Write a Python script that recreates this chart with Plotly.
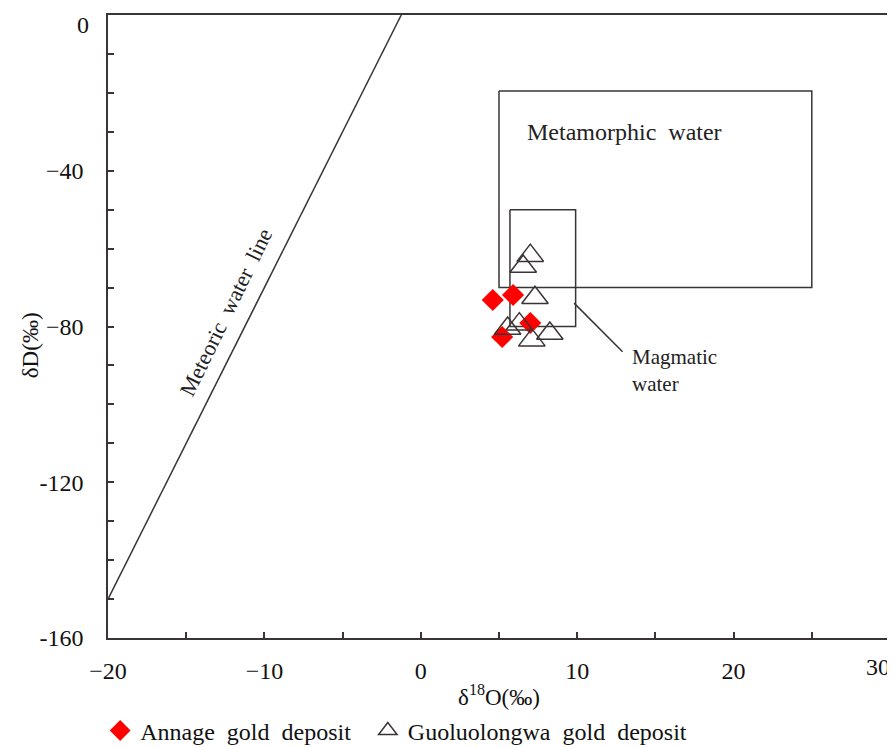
import plotly.graph_objects as go

# Data
annage_o = [4.6, 5.9, 5.2, 7.0]
annage_d = [-73.2, -71.9, -82.7, -79.1]

guo_o = [7.0, 6.55, 7.3, 5.55, 6.3, 7.1, 8.25]
guo_d = [-61.8, -64.6, -72.6, -80.5, -79.4, -83.5, -81.8]

meteoric_o = [-20, -1.25]
meteoric_d = [-150, 0]

metamorphic_o = [5, 25, 25, 5, 5]
metamorphic_d = [-19.5, -19.5, -70, -70, -19.5]

magmatic_o = [5.7, 9.9, 9.9, 5.7, 5.7]
magmatic_d = [-50, -50, -80, -80, -50]

pointer_o = [9.8, 12.9]
pointer_d = [-74, -86.5]

x_ticks = [-20, -10, 0, 10, 20]
x_ticktext = ["\u221220", "\u221210", "0", "10", "20"]
x_last_tick = 30
x_last_text = "30"
y_ticks = [-40, -80, -120, -160]
y_ticktext = ["\u221240", "\u221280", "-120", "-160"]
y_first_tick = 0
y_first_text = "0"

FONT = "Liberation Serif, Times New Roman, serif"
INK = "#3a3535"

fig = go.Figure()

line_style = dict(color=INK, width=1.5)
fig.add_trace(go.Scatter(x=meteoric_o, y=meteoric_d, mode="lines", line=line_style,
                         showlegend=False, hoverinfo="skip"))
fig.add_trace(go.Scatter(x=metamorphic_o, y=metamorphic_d, mode="lines", line=line_style,
                         showlegend=False, hoverinfo="skip"))
fig.add_trace(go.Scatter(x=magmatic_o, y=magmatic_d, mode="lines", line=line_style,
                         showlegend=False, hoverinfo="skip"))
fig.add_trace(go.Scatter(x=pointer_o, y=pointer_d, mode="lines", line=line_style,
                         showlegend=False, hoverinfo="skip"))

fig.add_trace(go.Scatter(
    x=annage_o, y=annage_d, mode="markers",
    name="Annage\u00a0 gold\u00a0 deposit\u00a0\u00a0",
    marker=dict(symbol="diamond", size=17, color="#ff0000", line=dict(width=0)),
))
fig.add_trace(go.Scatter(
    x=guo_o, y=guo_d, mode="markers",
    name="Guoluolongwa\u00a0 gold\u00a0 deposit",
    marker=dict(symbol="triangle-up-open", size=23, color=INK, line=dict(width=1.5, color=INK)),
))

TXT = dict(family=FONT, size=24, color="#222")
fig.add_annotation(x=6.66, y=-30, text="Metamorphic\u00a0 water", showarrow=False,
                   xanchor="left", yanchor="middle", font=TXT)
fig.add_annotation(x=13.4, y=-91.4, text="Magmatic<br>water", showarrow=False,
                   xanchor="left", yanchor="middle", align="left",
                   font=dict(family=FONT, size=21, color="#222"))
fig.add_annotation(x=-12.45, y=-76.5, text="Meteoric\u00a0 water\u00a0 line", showarrow=False,
                   textangle=-64, font=dict(family=FONT, size=22, color="#222"))
fig.add_annotation(x=x_last_tick, y=0, yref="paper", text=x_last_text, showarrow=False,
                   xanchor="right", yanchor="top", xshift=2, yshift=-14,
                   font=dict(family=FONT, size=24, color="#111"))
fig.add_annotation(x=0, xref="paper", y=y_first_tick, text=y_first_text, showarrow=False,
                   xanchor="right", yanchor="top", xshift=-17, yshift=5,
                   font=dict(family=FONT, size=24, color="#111"))
# y-axis title
fig.add_annotation(x=-0.0997, xref="paper", y=0.47, yref="paper", text="\u03b4D(\u2030)",
                   showarrow=False, textangle=-90, xanchor="center", yanchor="middle",
                   font=dict(family=FONT, size=23, color="#111"))

axis_common = dict(
    showgrid=False, zeroline=False, showline=True, linecolor=INK, linewidth=1.5,
    mirror=True, ticks="inside", ticklen=6, tickcolor=INK, tickwidth=1.5,
    tickfont=dict(family=FONT, size=24, color="#111"), automargin=False,
)

fig.update_xaxes(
    range=[-20, 30], tickmode="array", tickvals=x_ticks, ticktext=x_ticktext,
    minor=dict(dtick=5, ticks="inside", ticklen=6, tickcolor=INK, tickwidth=1.5),
    title=dict(text="\u03b4<sup>18</sup>O(\u2030)", font=dict(family=FONT, size=23, color="#111"), standoff=6),
    ticklabelstandoff=10,
    **axis_common,
)
fig.update_yaxes(
    range=[-160, 0], tickmode="array", tickvals=y_ticks, ticktext=y_ticktext,
    minor=dict(dtick=10, ticks="inside", ticklen=6, tickcolor=INK, tickwidth=1.5),
    ticklabelstandoff=18,
    **axis_common,
)

fig.update_layout(
    width=887, height=739,
    margin=dict(l=100, r=5, t=7, b=109, autoexpand=False),
    plot_bgcolor="white", paper_bgcolor="white",
    font=dict(family=FONT, color="#111"),
    legend=dict(orientation="h", x=-0.01, xanchor="left", y=-0.113, yanchor="top",
                font=dict(family=FONT, size=24, color="#111"), itemsizing="trace",
                bgcolor="rgba(0,0,0,0)"),
)

fig.write_html("out.html")
